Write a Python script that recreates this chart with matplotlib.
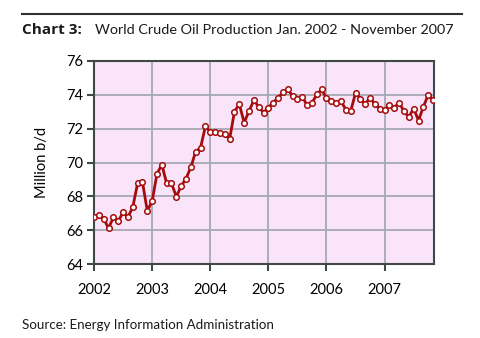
import numpy as np
import matplotlib.pyplot as plt
from matplotlib.lines import Line2D

# monthly world crude oil production, million b/d (Jan 2002 - Nov 2007)
prod_2002 = [66.75, 66.91, 66.67, 66.12, 66.75, 66.53, 67.05, 66.77, 67.35, 68.77, 68.85, 67.15]
prod_2003 = [67.70, 69.33, 69.88, 68.77, 68.77, 67.98, 68.61, 69.05, 69.72, 70.65, 70.87, 72.14]
prod_2004 = [71.82, 71.82, 71.76, 71.70, 71.37, 73.01, 73.45, 72.36, 73.03, 73.68, 73.29, 72.95]
prod_2005 = [73.25, 73.54, 73.84, 74.14, 74.34, 73.92, 73.78, 73.88, 73.39, 73.52, 74.02, 74.32]
prod_2006 = [73.80, 73.66, 73.52, 73.62, 73.13, 73.03, 74.12, 73.78, 73.45, 73.84, 73.43, 73.19]
prod_2007 = [73.13, 73.37, 73.25, 73.54, 73.03, 72.69, 73.19, 72.48, 73.29, 74.00, 73.72]

years = [2002, 2003, 2004, 2005, 2006, 2007]
y_ticks = [64, 66, 68, 70, 72, 74, 76]

production = prod_2002 + prod_2003 + prod_2004 + prod_2005 + prod_2006 + prod_2007
months = 2002 + np.arange(len(production)) / 12.0

plt.rcParams['font.family'] = ['Lato', 'DejaVu Sans']

fig = plt.figure(figsize=(4.8, 3.38), dpi=100)
ax = fig.add_axes([94 / 480, 1 - 264 / 338, 340 / 480, 203 / 338])

ax.set_facecolor('#fae4fa')
ax.plot(months, production, color='#a50b0b', linewidth=2.0,
        marker='o', markersize=4.0, markerfacecolor='white',
        markeredgecolor='#a50b0b', markeredgewidth=1.1, zorder=3)

ax.set_xlim(2002, 2007.85)
ax.set_ylim(64, 76)
ax.set_xticks(years)
ax.set_xticklabels([str(y) for y in years], fontsize=10.5)
ax.set_yticks(y_ticks)
ax.set_yticklabels([str(v) for v in y_ticks], fontsize=10.5)
ax.tick_params(axis='x', direction='out', length=5, width=1.5, color='#404848', pad=9)
ax.tick_params(axis='y', direction='out', length=5, width=1.5, color='#404848', pad=3)
ax.grid(True, color='#a6a8b4', linewidth=1.3)
ax.set_axisbelow(True)
for sp in ax.spines.values():
    sp.set_color('#404848')
    sp.set_linewidth(1.5)

ax.set_ylabel('Million b/d', fontsize=10.5, labelpad=12)

# header rule and title
fig.add_artist(Line2D([22 / 480, 462 / 480], [1 - 14 / 338, 1 - 14 / 338],
                      color='#303030', linewidth=1.5))
fig.text(22 / 480, 1 - 30 / 338, 'Chart 3:', fontsize=11, weight='bold',
         family=['Open Sans', 'DejaVu Sans'],
         color='#1a1a1a', va='center', ha='left')
fig.text(95 / 480, 1 - 30 / 338, 'World Crude Oil Production Jan. 2002 - November 2007',
         fontsize=10.4, color='#1a1a1a', va='center', ha='left')

fig.text(22 / 480, 1 - 325 / 338, 'Source: Energy Information Administration',
         fontsize=9.6, color='#1a1a1a', va='center', ha='left')

plt.savefig('out.png', dpi=100)
plt.close()
